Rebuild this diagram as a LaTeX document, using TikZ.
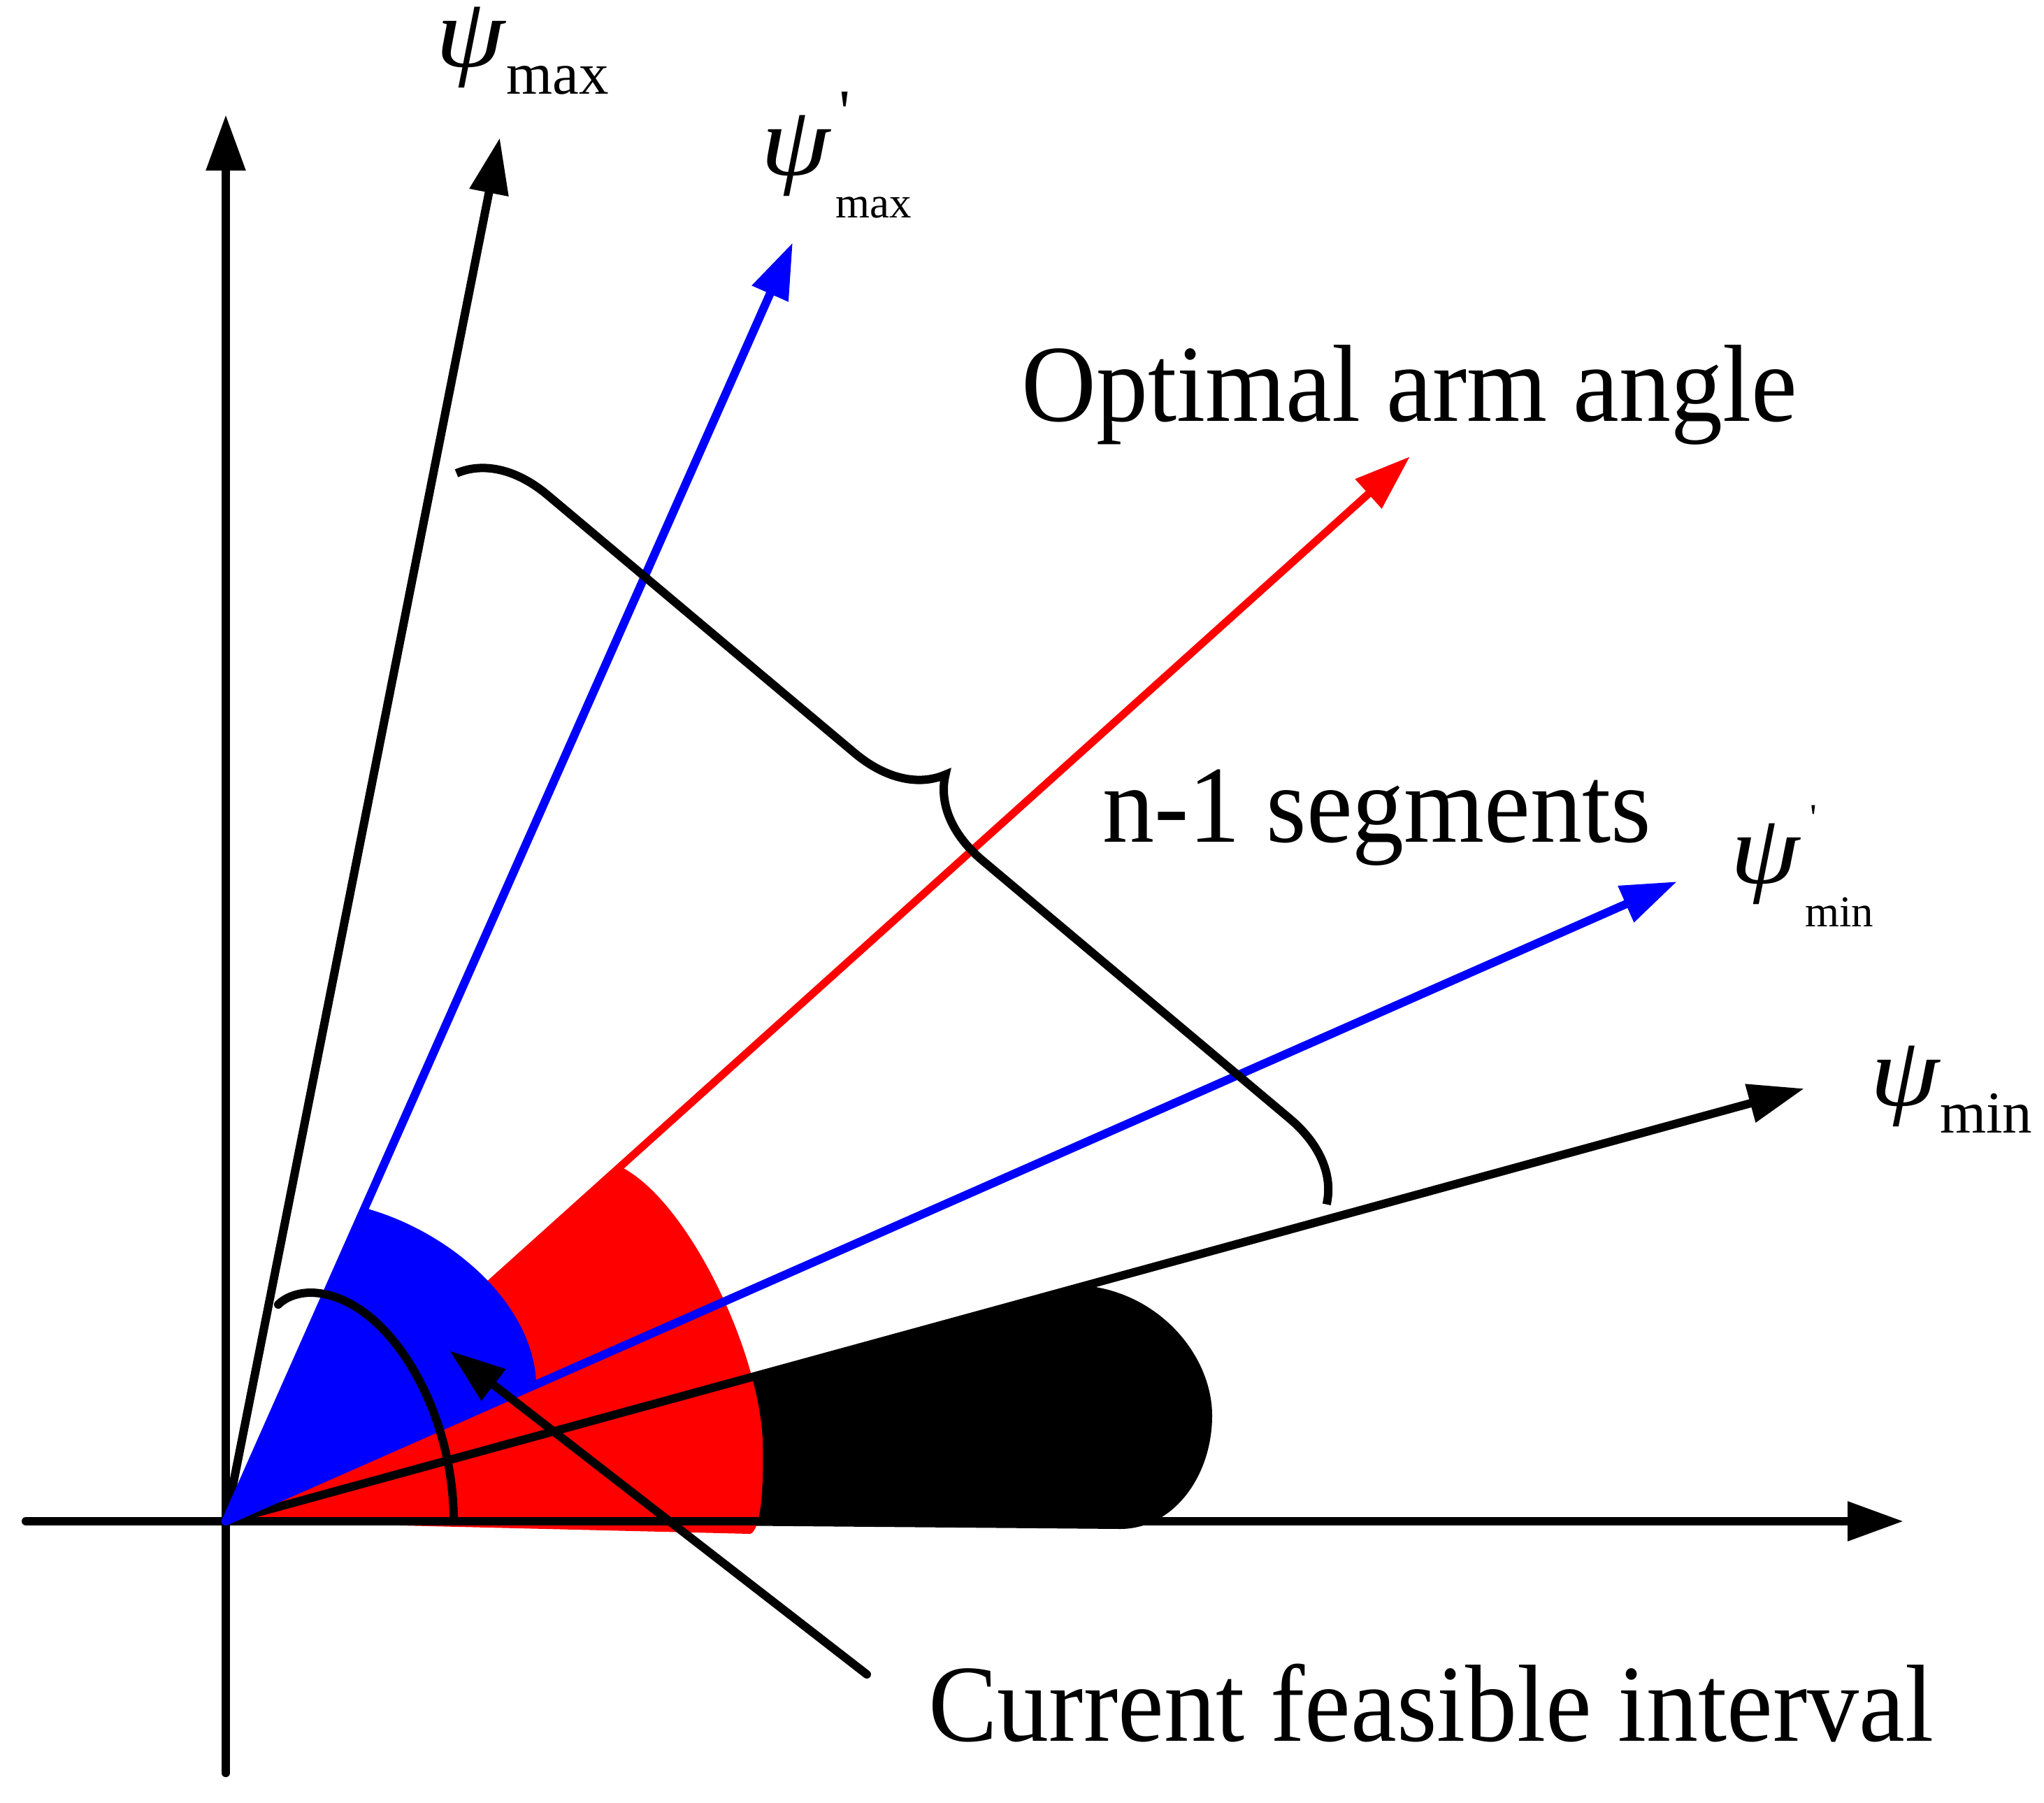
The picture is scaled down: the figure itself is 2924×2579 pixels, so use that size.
\documentclass[tikz,border=0pt]{standalone}
\usepackage{fontspec}
\usepackage{graphicx}
\setmainfont{Liberation Serif}
\usetikzlibrary{arrows.meta,decorations.pathreplacing}
\begin{document}
\begin{tikzpicture}[x=1pt,y=-1pt,
  ln/.style={line width=12pt,line cap=round},
  arr/.style={ln,-{Triangle[length=80pt,width=54pt]}},
  lbl/.style={inner sep=0pt,anchor=base west},
  big/.style={font=\fontsize{148}{148}\selectfont},
  psi/.style={font=\fontsize{142}{142}\selectfont\itshape},
  subbig/.style={font=\fontsize{85}{85}\selectfont},
  subsmall/.style={font=\fontsize{63}{63}\selectfont}]
\useasboundingbox (0,0) rectangle (2924,2579);
% key points
\coordinate (O) at (323,2176);
\coordinate (xl) at (37,2176);
\coordinate (xr) at (2723,2176);
\coordinate (yb) at (323,2536);
\coordinate (yt) at (323,164);
\coordinate (tmax) at (715,197);
\coordinate (tmaxp) at (1134,347);
\coordinate (topt) at (2017,653);
\coordinate (tminp) at (2399,1261);
\coordinate (tmin) at (2581,1557);
% red arrow (behind sectors)
\draw[arr,red,line width=11pt] (O) -- (topt);
% sectors
\fill[black] (O) -- (1553,1839) .. controls (1660,1850) and (1734,1940) .. (1734,2025)
  .. controls (1734,2110) and (1680,2187) .. (1602,2187) -- cycle;
\fill[red] (O) -- (890,1670) .. controls (985,1720) and (1085,1930) .. (1091,2060)
  .. controls (1093,2130) and (1088,2190) .. (1073,2194) -- cycle;
\fill[blue] (O) -- (522,1728) .. controls (640,1760) and (760,1860) .. (767,1975) -- cycle;
% axes
\draw[arr] (xl) -- (xr);
\draw[arr] (yb) -- (yt);
% boundary arrows
\draw[arr] (O) -- (tmax);
\draw[arr] (O) -- (tmin);
\draw[arr,blue] (O) -- (tmaxp);
\draw[arr,blue] (O) -- (tminp);
% angle arc
\draw[ln] (649,2176) .. controls (649,2010) and (550,1851) .. (445,1849)
  .. controls (425,1849) and (408,1856) .. (398,1866);
% brace
\coordinate (bA) at (653,677);
\coordinate (bB) at (1898,1723);
\draw[line width=12pt,decorate,decoration={brace,amplitude=120pt}] (bA) -- (bB);
% texts
\node[lbl,big] (optimal) at (1461,602) {\scalebox{1}[1.06]{Optimal arm angle}};
\node[lbl,big] (segments) at (1577,1204) {\scalebox{1}[1.06]{n-1 segments}};
\node[lbl,big] (current) at (1328,2490) {\scalebox{1}[1.06]{Current feasible interval}};
% current arrow
\coordinate (cs) at (1240,2395);
\coordinate (ce) at (643,1932);
\draw[arr] (cs) -- (ce);
% psi labels
\node[lbl,psi] (psimax) at (623,96) {\smash{\scalebox{1.12}[1]{ψ}}};
\node[lbl,subbig] (submax) at (724,135) {max};
\node[lbl,psi] (psimaxp) at (1088,251) {\smash{\scalebox{1.12}[1]{ψ}}};
\node[lbl,font=\fontsize{90}{90}\selectfont] (primemax) at (1200,191) {\textquotesingle};
\node[lbl,subsmall] (submaxp) at (1195,312) {max};
\node[lbl,psi] (psiminp) at (2475,1263) {\smash{\scalebox{1.12}[1]{ψ}}};
\node[lbl,font=\fontsize{54}{54}\selectfont] (primemin) at (2589,1187) {\textquotesingle};
\node[lbl,subsmall] (subminp) at (2582,1325) {min};
\node[lbl,psi] (psimin) at (2675,1581) {\smash{\scalebox{1.12}[1]{ψ}}};
\node[lbl,subbig] (submin) at (2775,1620) {min};
\end{tikzpicture}
\end{document}
